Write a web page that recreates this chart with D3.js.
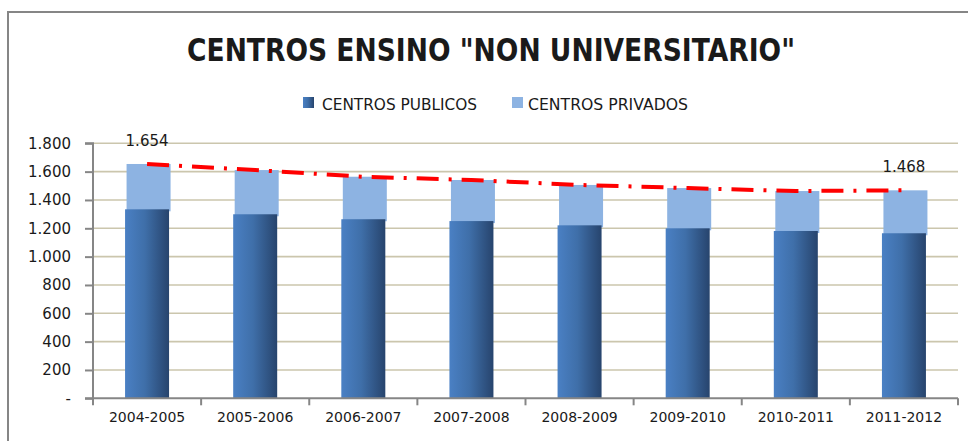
<!DOCTYPE html>
<html>
<head>
<meta charset="utf-8">
<script src="https://cdn.jsdelivr.net/npm/d3@7"></script>
<style>
  body { margin:0; background:#fff; }
  svg { display:block; }
  text { font-family: "DejaVu Sans", sans-serif; fill:#1a1a1a; }
</style>
</head>
<body>
<div id="chart"></div>
<script>
// chart data
const years = ['2004-2005','2005-2006','2006-2007','2007-2008','2008-2009','2009-2010','2010-2011','2011-2012'];
const publicos = [1334, 1299, 1264, 1251, 1221, 1200, 1181, 1165];
const privados = [320, 312, 300, 290, 285, 284, 282, 303];
const totals = publicos.map((v,i)=> v + privados[i]);
const yTicks = [0,200,400,600,800,1000,1200,1400,1600,1800];

const W = 968, H = 441;
const m = {left:93, right:10, top:143, bottom:43};

const svg = d3.select('#chart').append('svg')
  .attr('width', W).attr('height', H);

const defs = svg.append('defs');
const grad = defs.append('linearGradient').attr('id','pubGrad')
  .attr('x1','0%').attr('x2','100%').attr('y1','0%').attr('y2','0%');
grad.append('stop').attr('offset','0%').attr('stop-color','#4a80c4');
grad.append('stop').attr('offset','45%').attr('stop-color','#3f6fa9');
grad.append('stop').attr('offset','100%').attr('stop-color','#27446d');

// outer frame
svg.append('rect').attr('x',8).attr('y',12).attr('width',W+10).attr('height',H+10)
  .attr('fill','none').attr('stroke','#868686').attr('stroke-width',2);

const x = d3.scaleBand().domain(years).range([m.left, 958]).paddingInner(0).paddingOuter(0);
const y = d3.scaleLinear().domain([0,1800]).range([398.3, 143.3]);

// gridlines
svg.append('g').selectAll('line').data(yTicks.filter(d=>d>0)).enter().append('line')
  .attr('x1', m.left).attr('x2', 958)
  .attr('y1', d=>y(d)).attr('y2', d=>y(d))
  .attr('stroke','#cbc6ad').attr('stroke-width',1.6);

// bars
const bw = 44;
const g = svg.append('g');
g.selectAll('rect.priv').data(years).enter().append('rect')
  .attr('x', d=> x(d) + x.bandwidth()/2 - bw/2 + 1.5)
  .attr('y', (d,i)=> y(totals[i]))
  .attr('width', bw)
  .attr('height', (d,i)=> y(publicos[i]) - y(totals[i]) + 2)
  .attr('fill','#8db3e2');
g.selectAll('rect.pub').data(years).enter().append('rect')
  .attr('x', d=> x(d) + x.bandwidth()/2 - bw/2)
  .attr('y', (d,i)=> y(publicos[i]))
  .attr('width', bw)
  .attr('height', (d,i)=> y(0) - y(publicos[i]))
  .attr('fill','url(#pubGrad)');

// y axis
const yAxis = d3.axisLeft(y).tickValues(yTicks).tickSize(8).tickPadding(14)
  .tickFormat(d=> d===0 ? '-' : d3.format(',')(d).replace(/,/g,'.'));
const ya = svg.append('g').attr('transform',`translate(${m.left},0)`).call(yAxis);
ya.select('.domain').attr('stroke','#868686').attr('stroke-width',2).attr('d',`M-8,${y(1800)}H0V${y(0)}`);
ya.selectAll('.tick line').attr('stroke','#868686').attr('stroke-width',2);
ya.selectAll('.tick text').attr('font-size',15).attr('fill','#1a1a1a')
  .attr('font-family','DejaVu Sans, sans-serif');

// x axis
const xa = svg.append('g').attr('transform',`translate(0,${y(0)})`)
  .call(d3.axisBottom(x).tickSize(0).tickPadding(14));
xa.select('.domain').attr('stroke','#868686').attr('stroke-width',2)
  .attr('d',`M${m.left-8},0H958`);
xa.selectAll('.tick text').attr('font-size',14).attr('fill','#1a1a1a')
  .attr('font-family','DejaVu Sans, sans-serif');
xa.append('g').selectAll('line').data(years.concat(['end'])).enter().append('line')
  .attr('x1',(d,i)=> i<years.length ? x(d) : 958)
  .attr('x2',(d,i)=> i<years.length ? x(d) : 958)
  .attr('y1',0).attr('y2',7)
  .attr('stroke','#868686').attr('stroke-width',2);

// totals line (dash-dot)
const line = d3.line().x((d,i)=> x(years[i]) + x.bandwidth()/2).y(d=> y(d));
svg.append('path').datum(totals)
  .attr('d', line)
  .attr('fill','none')
  .attr('stroke','#ff0000')
  .attr('stroke-width',4)
  .attr('stroke-dasharray','22 10 3 10');

// labels for first and last
[0, years.length-1].forEach(i=>{
  svg.append('text')
    .attr('x', x(years[i]) + x.bandwidth()/2)
    .attr('y', y(totals[i]) - 18)
    .attr('text-anchor','middle')
    .attr('font-size',15)
    .text(d3.format(',')(totals[i]).replace(/,/g,'.'));
});

// title
svg.append('text')
  .attr('x', 187).attr('y', 61)
  .attr('font-family','Liberation Sans Narrow, Open Sans, sans-serif')
  .attr('font-weight','bold')
  .attr('font-size',32)
  .attr('textLength',608).attr('lengthAdjust','spacingAndGlyphs')
  .attr('fill','#000')
  .text('CENTROS ENSINO "NON UNIVERSITARIO"');

// legend
const legend = [
  {name:'CENTROS PUBLICOS', fill:'url(#pubGrad)', sx:303, tx:322, tw:155},
  {name:'CENTROS PRIVADOS', fill:'#8db3e2', sx:512, tx:528, tw:160}
];
const lg = svg.append('g').selectAll('g').data(legend).enter().append('g');
lg.append('rect').attr('x',d=>d.sx).attr('y',97).attr('width',11).attr('height',11).attr('fill',d=>d.fill);
lg.append('text').attr('x',d=>d.tx).attr('y',110).attr('font-size',15)
  .attr('textLength',d=>d.tw).attr('lengthAdjust','spacingAndGlyphs')
  .text(d=>d.name);
</script>
</body>
</html>
